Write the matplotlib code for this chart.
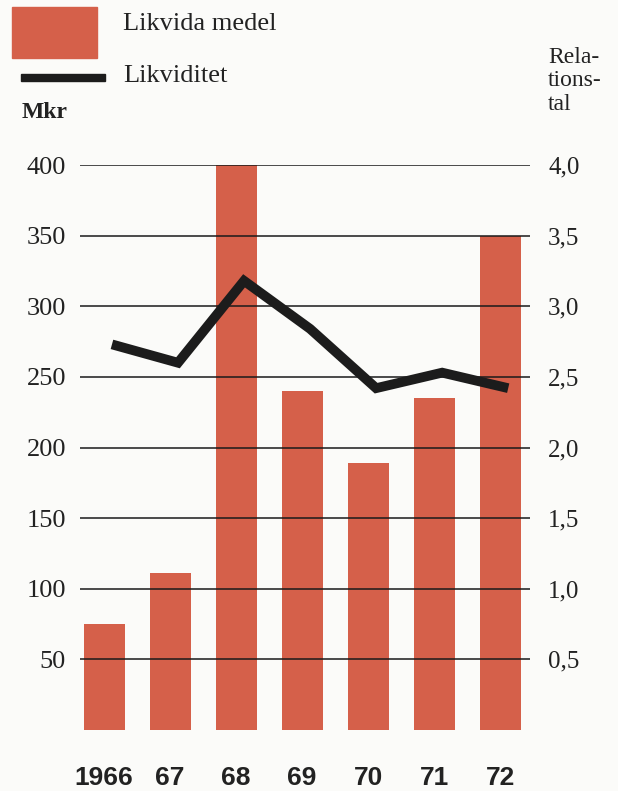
import numpy as np
import matplotlib.pyplot as plt

years = ['1966', '67', '68', '69', '70', '71', '72']
likvida_medel = [75, 111, 400, 240, 189, 235, 350]      # Mkr
likviditet = [2.73, 2.60, 3.18, 2.84, 2.42, 2.53, 2.42]  # relationstal
left_ticks = [50, 100, 150, 200, 250, 300, 350, 400]
right_ticks = [0.5, 1.0, 1.5, 2.0, 2.5, 3.0, 3.5, 4.0]

bar_col = '#d5604a'
ink = '#222222'
bg = '#fbfbf9'
serif = 'Liberation Serif'
sans = 'Liberation Sans'

fig = plt.figure(figsize=(6.18, 7.91), dpi=100, facecolor=bg)
ax = fig.add_axes([80/618, 1-730/791, 450/618, 565/791])
ax.set_facecolor(bg)

x = np.arange(len(years))
ax.bar(x, likvida_medel, width=0.62, color=bar_col, zorder=1)
ax.set_xlim(-0.364, 6.45)
ax.set_ylim(0, 400)
ax.set_yticks(left_ticks)
ax.set_yticklabels([str(v) for v in left_ticks], fontfamily=serif, fontsize=19, color=ink)
ax.set_xticks(x)
ax.set_xticklabels(years, fontfamily=sans, fontweight='bold', fontsize=19, color=ink)
ax.tick_params(axis='y', length=0, pad=10)
ax.tick_params(axis='x', length=0, pad=26)
ax.set_axisbelow(False)
ax.yaxis.grid(True, color='#1a1a1a', lw=1.1)
for s in ax.spines.values():
    s.set_visible(False)

ax2 = ax.twinx()
ax2.plot(x + 0.12, likviditet, color='#1c1c1c', lw=7, solid_joinstyle='miter', solid_capstyle='butt')
ax2.set_ylim(0, 4)
ax2.set_yticks(right_ticks)
ax2.set_yticklabels([f'{v:.1f}'.replace('.', ',') for v in right_ticks],
                    fontfamily=serif, fontsize=18, color=ink)
ax2.tick_params(axis='y', length=0, pad=13)
for s in ax2.spines.values():
    s.set_visible(False)

# legend
fig.patches.append(plt.Rectangle((12/618, 1-58/791), 85/618, 51/791,
                                 transform=fig.transFigure, color=bar_col))
fig.patches.append(plt.Rectangle((21/618, 1-81/791), 84/618, 7/791,
                                 transform=fig.transFigure, color='#1c1c1c'))
fig.text(123/618, 1-24/791, 'Likvida medel', fontfamily=serif, fontsize=19,
         color=ink, va='center')
fig.text(123/618, 1-76/791, 'Likviditet', fontfamily=serif, fontsize=19,
         color=ink, va='center')
fig.text(22/618, 1-113/791, 'Mkr', fontfamily=serif, fontweight='bold', fontsize=17,
         color=ink, va='center')
fig.text(548/618, 1-47/791, 'Rela-\ntions-\ntal', fontfamily=serif, fontsize=17,
         color=ink, va='top', linespacing=1.15)

fig.savefig('out.png', dpi=100, facecolor=bg)
